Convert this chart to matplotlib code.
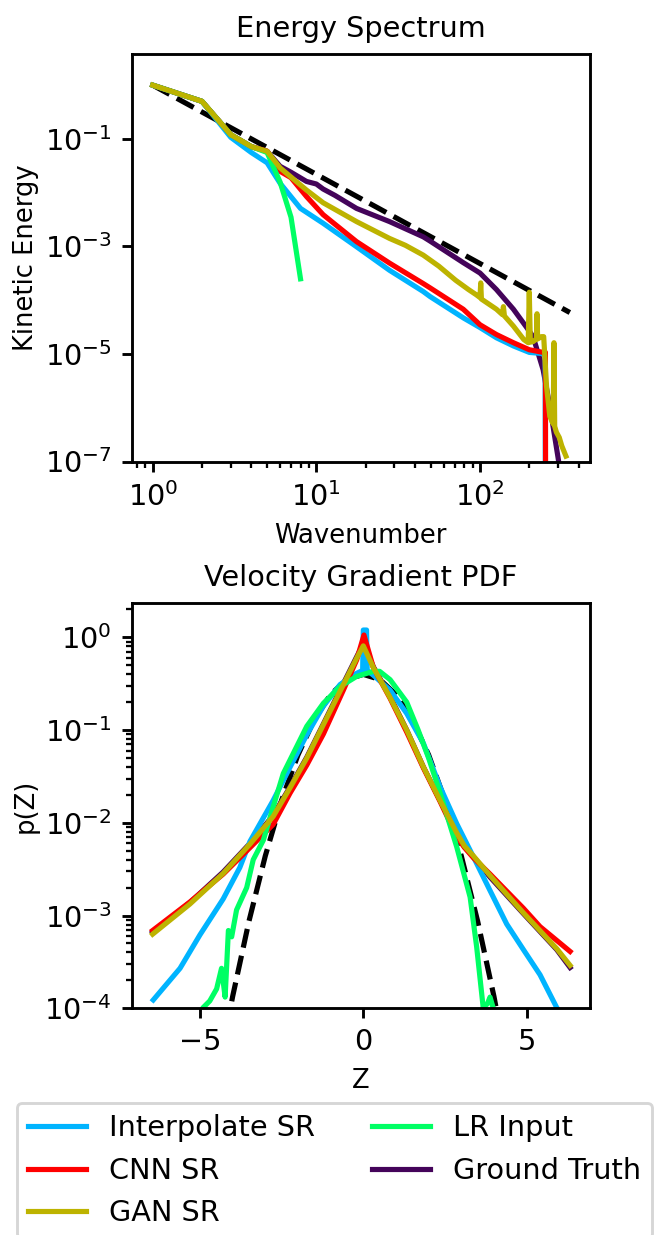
import matplotlib
matplotlib.use("Agg")
import matplotlib.pyplot as plt
from matplotlib.ticker import NullLocator

# ---- energy spectrum ----
k_interp = [1, 2, 3, 4, 5, 6, 8, 11, 17.5, 28, 45, 49.5, 79, 100, 126, 160, 200, 240, 250, 251]
E_interp = [1.0, 0.5, 0.107, 0.056, 0.036, 0.015, 5.1e-3, 2.7e-3, 1.0e-3, 3.6e-4, 1.45e-4,
            1.17e-4, 4.7e-5, 3.1e-5, 2.0e-5, 1.41e-5, 1.07e-5, 1.02e-5, 1.0e-5, 1e-9]

k_cnn = [1, 2, 3, 4, 5, 6, 7, 8.7, 11, 17.6, 28, 45, 49.5, 79, 100, 126, 160, 200, 243, 251, 252]
E_cnn = [1.0, 0.5, 0.12, 0.072, 0.059, 0.025, 0.019, 8.5e-3, 3.9e-3, 1.23e-3, 4.9e-4, 2.04e-4,
         1.7e-4, 6.8e-5, 3.5e-5, 2.3e-5, 1.62e-5, 1.2e-5, 1.07e-5, 1.07e-5, 1e-9]

k_gan = [1, 2, 3, 4, 5, 6, 8.7, 11, 17.6, 28, 35, 45, 56, 71, 85, 95, 100, 101, 102, 126, 137,
         139, 141, 160, 185, 197, 200, 203, 211, 221, 223, 225, 237, 245, 255, 267, 280, 283, 286,
         293, 305, 316, 335]
E_gan = [1.0, 0.5, 0.12, 0.072, 0.059, 0.029, 0.0112, 6.5e-3, 2.9e-3, 1.41e-3, 1.05e-3, 6.9e-4,
         4.3e-4, 2.35e-4, 1.58e-4, 1.26e-4, 1.12e-4, 2.1e-4, 1.05e-4, 6.8e-5, 5.4e-5, 7.6e-5,
         5.1e-5, 3.3e-5, 1.86e-5, 1.62e-5, 1.41e-4, 1.66e-5, 1.7e-5, 1.9e-5, 5.6e-5, 1.9e-5,
         2.1e-5, 2.1e-5, 2.5e-6, 6.9e-7, 5e-7, 1.62e-5, 4.5e-7, 3.5e-7, 2.8e-7, 1.95e-7, 1.26e-7]

k_lr = [1, 2, 3, 4, 5, 6, 7, 8]
E_lr = [1.0, 0.5, 0.12, 0.072, 0.056, 0.0158, 3.5e-3, 2.5e-4]

k_gt = [1, 2, 3, 4, 5, 6, 7, 8.7, 10, 11, 13, 17.6, 28, 45, 49.5, 79, 100, 126, 160, 193, 211,
        243, 267, 300, 320]
E_gt = [1.0, 0.5, 0.12, 0.072, 0.059, 0.031, 0.024, 0.0162, 0.0145, 0.0117, 8.9e-3, 5.1e-3,
        2.9e-3, 1.51e-3, 1.26e-3, 5.0e-4, 3.2e-4, 1.58e-4, 6.8e-5, 3.1e-5, 2.1e-5, 5.1e-6,
        1.07e-6, 1.17e-7, 3.2e-8]

k_ref = [1, 354]
E_ref = [1.0, 5.9e-5]

# ---- velocity gradient pdf ----
z_interp = [-6.43, -5.61, -5.0, -4.29, -3.78, -3.47, -2.76, -2.24, -1.73, -1.22, -0.71, -0.2,
            -0.02, 0.0, 0.1, 0.12, 0.31, 0.82, 1.33, 1.84, 2.35, 2.86, 3.37, 3.88, 4.39, 4.9,
            5.41, 5.92, 6.33]
p_interp = [1.23e-4, 2.7e-4, 6.2e-4, 1.51e-3, 3.3e-3, 6.3e-3, 0.0174, 0.040, 0.089, 0.182,
            0.31, 0.41, 0.44, 1.2, 1.2, 0.44, 0.39, 0.27, 0.151, 0.072, 0.0245, 9.8e-3, 4.3e-3,
            1.86e-3, 8.1e-4, 4.3e-4, 2.3e-4, 1.02e-4, 6.3e-5]

z_cnn = [-6.45, -5.31, -4.29, -3.47, -2.76, -2.24, -1.73, -1.22, -0.61, -0.2, 0.02, 0.31, 0.82,
         1.33, 1.84, 2.35, 2.86, 3.1, 3.37, 3.88, 4.9, 5.41, 5.92, 6.33]
p_cnn = [6.9e-4, 1.4e-3, 2.8e-3, 5.4e-3, 9.6e-3, 0.021, 0.042, 0.091, 0.27, 0.575, 1.06, 0.47,
         0.22, 0.095, 0.039, 0.017, 7.1e-3, 5.4e-3, 4.2e-3, 2.8e-3, 1.2e-3, 7.6e-4, 5.4e-4, 4.1e-4]

z_gt = [-6.45, -5.31, -4.29, -3.47, -2.76, -2.24, -1.73, -1.22, -0.71, -0.2, 0.0, 0.31, 0.82,
        1.33, 1.84, 2.35, 2.86, 3.1, 3.37, 3.88, 4.9, 5.92, 6.33]
p_gt = [6.6e-4, 1.38e-3, 2.95e-3, 6.0e-3, 0.012, 0.0245, 0.051, 0.117, 0.27, 0.62, 0.85, 0.48,
        0.23, 0.10, 0.040, 0.0174, 7.6e-3, 5.5e-3, 4.3e-3, 2.6e-3, 1.05e-3, 4.3e-4, 2.75e-4]
p_gan = [6.3e-4, 1.33e-3, 2.85e-3, 5.9e-3, 0.0117, 0.024, 0.050, 0.115, 0.263, 0.60, 0.81, 0.47,
         0.224, 0.10, 0.040, 0.0174, 7.8e-3, 5.6e-3, 4.4e-3, 2.7e-3, 1.07e-3, 4.4e-4, 2.9e-4]

z_lr = [-5.1, -4.9, -4.7, -4.49, -4.34, -4.23, -4.13, -4.03, -3.88, -3.57, -3.37, -3.06, -2.76,
        -2.45, -1.73, -1.22, -0.71, -0.2, 0.31, 0.5, 0.82, 1.33, 1.68, 2.0, 2.35, 2.86, 3.27,
        3.47, 3.67, 3.8, 3.88, 3.98, 4.08]
p_lr = [7.9e-5, 1.02e-4, 1.2e-4, 1.62e-4, 2.7e-4, 1.32e-4, 6.9e-4, 5.9e-4, 1.15e-3, 2.0e-3,
        4.0e-3, 6.5e-3, 0.0148, 0.034, 0.11, 0.195, 0.295, 0.38, 0.43, 0.43, 0.35, 0.20, 0.10,
        0.05, 0.021, 5.5e-3, 1.58e-3, 4.6e-4, 1.02e-4, 1.12e-4, 1.32e-4, 1.0e-4, 7.9e-5]

z_gauss = [-4.5, -4, -3.5, -3, -2.5, -2, -1.5, -1, -0.5, 0, 0.5, 1, 1.5, 2, 2.5, 3, 3.5, 4, 4.5]
p_gauss = [1.6e-5, 1.34e-4, 8.7e-4, 4.4e-3, 0.0175, 0.054, 0.130, 0.242, 0.352, 0.399, 0.352,
           0.242, 0.130, 0.054, 0.0175, 4.4e-3, 8.7e-4, 1.34e-4, 1.6e-5]

labels = ["Interpolate SR", "CNN SR", "GAN SR", "LR Input", "Ground Truth"]
colors = ["#00B4FF", "#FF0000", "#BDB300", "#00FF64", "#44045A"]

plt.rcParams["axes.linewidth"] = 1.0
plt.rcParams["xtick.major.width"] = 1.0
plt.rcParams["ytick.major.width"] = 1.0
plt.rcParams["xtick.minor.width"] = 0.8
plt.rcParams["ytick.minor.width"] = 0.8

W, H, DPI = 669, 1235, 207
fig = plt.figure(figsize=(W / DPI, H / DPI), dpi=DPI)

x0, x1 = 131.7, 590.0
ax1 = fig.add_axes([x0 / W, 1 - 461.5 / H, (x1 - x0) / W, (461.5 - 54) / H])
ax2 = fig.add_axes([x0 / W, 1 - 1008.3 / H, (x1 - x0) / W, (1008.3 - 603.3) / H])

lw = 1.8
ax1.plot(k_ref, E_ref, "k--", lw=lw)
ax1.plot(k_gt, E_gt, color=colors[4], lw=lw)
ax1.plot(k_interp, E_interp, color=colors[0], lw=lw)
ax1.plot(k_cnn, E_cnn, color=colors[1], lw=lw)
ax1.plot(k_lr, E_lr, color=colors[3], lw=lw)
ax1.plot(k_gan, E_gan, color=colors[2], lw=lw)
ax1.set_xscale("log")
ax1.set_yscale("log")
ax1.set_xlim(0.744, 470)
ax1.set_ylim(1e-7, 3.8)
ax1.set_yticks([1e-7, 1e-5, 1e-3, 1e-1])
ax1.yaxis.set_minor_locator(NullLocator())
ax1.set_title("Energy Spectrum", fontsize=10)
ax1.set_xlabel("Wavenumber", fontsize=9)
ax1.set_ylabel("Kinetic Energy", fontsize=9)

ax2.plot(z_gauss, p_gauss, "k--", lw=lw)
h_gt, = ax2.plot(z_gt, p_gt, color=colors[4], lw=lw)
h_in, = ax2.plot(z_interp, p_interp, color=colors[0], lw=lw)
h_cnn, = ax2.plot(z_cnn, p_cnn, color=colors[1], lw=lw)
h_lr, = ax2.plot(z_lr, p_lr, color=colors[3], lw=lw)
h_gan, = ax2.plot(z_gt, p_gan, color=colors[2], lw=lw)
ax2.set_yscale("log")
ax2.set_xlim(-7.09, 6.94)
ax2.set_ylim(1e-4, 2.33)
ax2.set_yticks([1e-4, 1e-3, 1e-2, 1e-1, 1e0])
ax2.set_xticks([-5, 0, 5])
ax2.set_title("Velocity Gradient PDF", fontsize=10)
ax2.set_xlabel("Z", fontsize=9)
ax2.set_ylabel("p(Z)", fontsize=9)

for ax in (ax1, ax2):
    ax.tick_params(labelsize=10)
    ax.yaxis.labelpad = 2

fig.legend([h_in, h_cnn, h_gan, h_lr, h_gt], labels, ncol=2, loc="upper left",
           bbox_to_anchor=(16.7 / W, 1 - 1102.7 / H), borderaxespad=0, fontsize=10)

fig.savefig("out.png", dpi=DPI)
